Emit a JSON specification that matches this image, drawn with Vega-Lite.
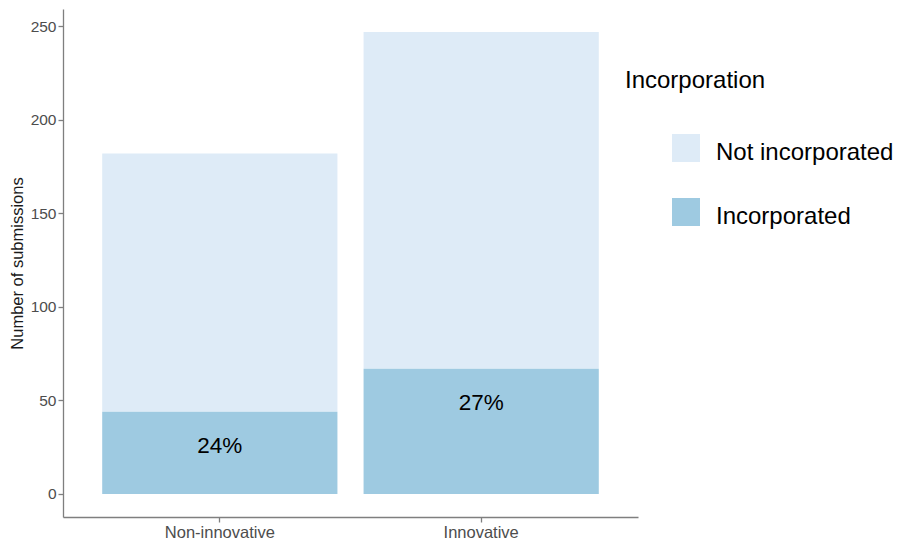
{
  "$schema": "https://vega.github.io/schema/vega-lite/v6.json",
  "width": 575,
  "height": 508,
  "padding": {"left": 63, "top": 9, "right": 270, "bottom": 24},
  "autosize": {"type": "none"},
  "background": "white",
  "config": {
    "view": {"stroke": null},
    "font": "Liberation Sans",
    "axis": {"grid": false, "domainColor": "#7f7f7f", "domainWidth": 1.3, "tickColor": "#7f7f7f", "tickWidth": 1.3, "tickSize": 5, "labelColor": "#4d4d4d", "labelFont": "Liberation Sans", "titleFont": "Liberation Sans"}
  },
  "data": {
    "values": [
      {"group": "Non-innovative", "status": "Not incorporated", "n": 138, "label": ""},
      {"group": "Non-innovative", "status": "Incorporated", "n": 44, "label": "24%"},
      {"group": "Innovative", "status": "Not incorporated", "n": 180, "label": ""},
      {"group": "Innovative", "status": "Incorporated", "n": 67, "label": "27%"}
    ]
  },
  "encoding": {
    "x": {
      "field": "group",
      "type": "nominal",
      "sort": ["Non-innovative", "Innovative"],
      "scale": {"paddingInner": 0.1, "paddingOuter": 0.15},
      "axis": {"title": null, "labelAngle": 0, "labelFontSize": 16.5, "labelPadding": 2}
    }
  },
  "layer": [
    {
      "mark": {"type": "bar"},
      "encoding": {
        "y": {
          "field": "n",
          "type": "quantitative",
          "stack": "zero",
          "scale": {"domain": [-12.35, 259.35], "nice": false, "zero": false},
          "axis": {"values": [0, 50, 100, 150, 200, 250], "title": "Number of submissions", "titleFontSize": 16.5, "titleFontWeight": "normal", "titleColor": "#1a1a1a", "titlePadding": 5, "labelFontSize": 15.5, "labelPadding": 2}
        },
        "color": {
          "field": "status",
          "type": "nominal",
          "scale": {"domain": ["Not incorporated", "Incorporated"], "range": ["#deebf7", "#9ecae1"]},
          "legend": {
            "title": "Incorporation",
            "orient": "none",
            "legendX": 562,
            "legendY": 60,
            "padding": 0,
            "titleFontSize": 24,
            "titleFontWeight": "normal",
            "titleColor": "#000000",
            "titlePadding": 41,
            "symbolType": "square",
            "symbolSize": 784,
            "symbolStrokeWidth": 0,
            "symbolOpacity": 1,
            "symbolOffset": 47,
            "labelFontSize": 24,
            "labelColor": "#000000",
            "labelOffset": 16,
            "rowPadding": 33,
            "labelLimit": 300,
            "encode": {
              "labels": {"update": {"dy": {"value": 5}}},
              "symbols": {"update": {"fill": {"signal": "datum.value === 'Incorporated' ? '#a1c4e8' : '#deebf7'"}}}
            }
          }
        },
        "order": {"field": "status", "sort": "ascending"}
      }
    },
    {
      "transform": [{"filter": "datum.status === 'Incorporated'"}],
      "mark": {"type": "text", "dy": 34, "baseline": "middle", "align": "center", "fontSize": 22.5, "color": "#000000"},
      "encoding": {
        "y": {"field": "n", "type": "quantitative", "stack": null},
        "text": {"field": "label"}
      }
    }
  ]
}
